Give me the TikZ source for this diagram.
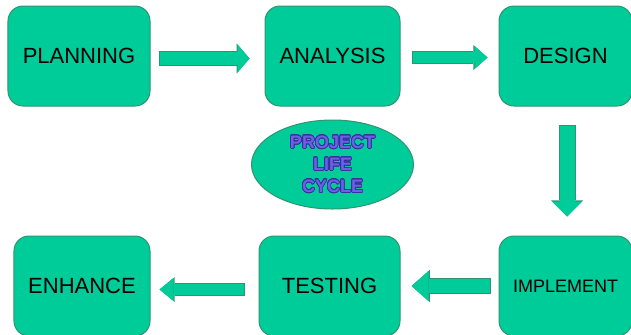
\documentclass[tikz,border=0pt]{standalone}
\usepackage{fontspec}
\setmainfont{Liberation Sans}
\usepackage[copies]{contour}
\usepackage{tikz}
\usetikzlibrary{shapes.geometric, positioning, arrows.meta}
\definecolor{stagefill}{RGB}{0,204,153}
\definecolor{stageline}{RGB}{45,150,110}
\definecolor{titlefill}{RGB}{110,95,230}
\definecolor{titleline}{RGB}{50,50,160}
\contourlength{0.7pt}
\contournumber{24}

\begin{document}
\begin{tikzpicture}[x=1bp, y=-1bp,
        stage/.style={draw=stageline, fill=stagefill, line width=1bp, rounded corners=15bp, minimum width=#1, minimum height=100bp, inner sep=0pt, font=\fontsize{22bp}{26bp}\selectfont},
        stage/.default=140bp,
        title/.style={ellipse, draw=stageline, fill=stagefill, line width=1bp, minimum width=162bp, minimum height=89bp, inner sep=0pt, align=center, font=\bfseries\fontsize{18bp}{22bp}\selectfont},
        fat/.style n args={3}{draw=stagefill, line width=#1,
            -{Triangle[width=#2, length=#3, line width=0pt]},
            preaction={draw=stageline, line width=#1+2bp, shorten <=-1bp,
                -{Triangle[width=#2, length=#3, line width=0pt, scale=1.08]}}}
    ]
    \useasboundingbox (0,0) rectangle (631,334);

    \node[stage=142bp] (plan) at (79,56) {PLANNING};
    \node[stage=135bp] (anal) [right=114bp of plan] {ANALYSIS};
    \node[stage=133bp] (design) [right=98bp of anal] {DESIGN};
    \node[stage=133bp, font=\fontsize{18bp}{22bp}\selectfont] (impl) [below=129bp of design] {IMPLEMENT};
    \node[stage=141bp] (test) [left=98bp of impl] {TESTING};
    \node[stage=136bp] (enh) [left=108bp of test] {ENHANCE};

    \node[title] (cycle) [below=13bp of anal] {\contour{titleline}{\textcolor{titlefill}{PROJECT}}\\
        \contour{titleline}{\textcolor{titlefill}{LIFE}}\\
        \contour{titleline}{\textcolor{titlefill}{CYCLE}}};

    % Block arrows between the stages
    \draw[fat={13bp}{28bp}{12bp}] ([xshift=9bp,yshift=-2.5bp]plan.east) -- ([xshift=-15bp,yshift=-2.5bp]anal.west);
    \draw[fat={11bp}{23bp}{13bp}] ([xshift=12bp,yshift=-1.5bp]anal.east) -- ([xshift=-11bp,yshift=-1.5bp]design.west);
    \draw[fat={15bp}{30bp}{15bp}] ([xshift=1.5bp,yshift=-19bp]design.south) -- ([xshift=1.5bp,yshift=19bp]impl.north);
    \draw[fat={14bp}{30bp}{17bp}] ([xshift=-9bp]impl.west) -- ([xshift=11bp]test.east);
    \draw[fat={11bp}{23bp}{14bp}] ([xshift=-15bp,yshift=-3.5bp]test.west) -- ([xshift=9bp,yshift=-3.5bp]enh.east);

\end{tikzpicture}
\end{document}
